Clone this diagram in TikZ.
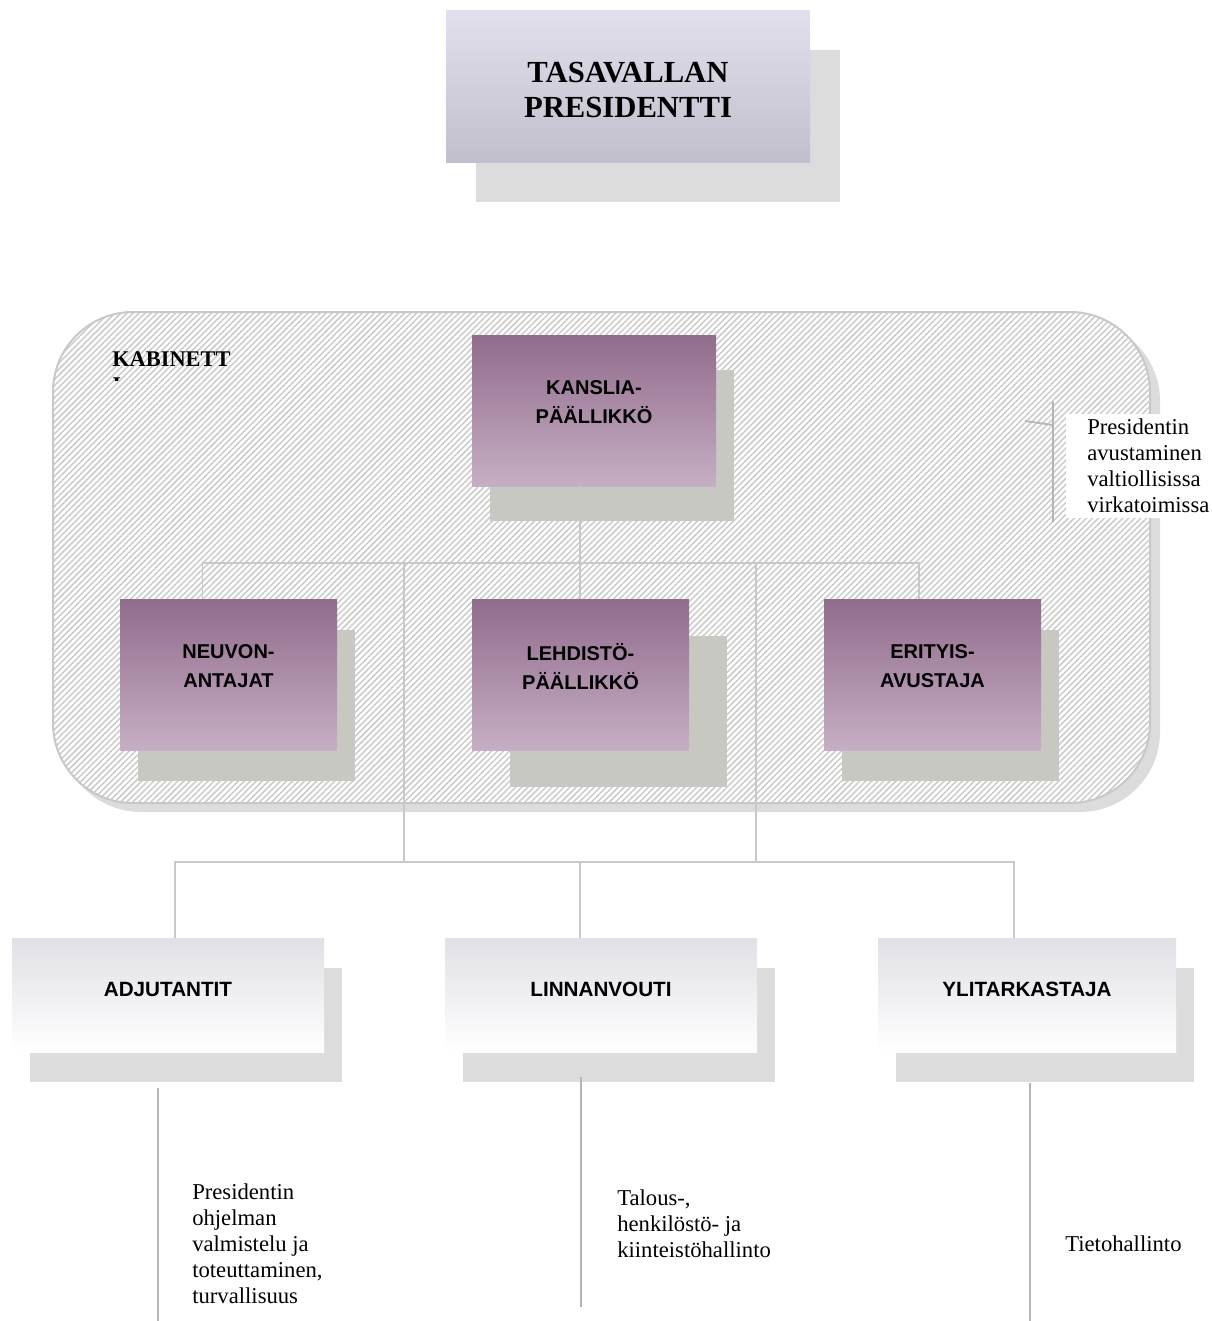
\documentclass[tikz,border=0pt]{standalone}
\usepackage{fontspec}
\setmainfont{Liberation Serif}
\setsansfont{Liberation Sans}
\usetikzlibrary{positioning,shadows,patterns.meta}

\definecolor{titletop}{HTML}{E2E0EC}
\definecolor{titlebot}{HTML}{C0BFCB}
\definecolor{purptop}{HTML}{916C8C}
\definecolor{purpbot}{HTML}{C6AEC4}
\definecolor{purpshadow}{HTML}{C8C8C3}
\definecolor{lightshadow}{HTML}{DCDCDC}
\definecolor{unittop}{HTML}{E0E0E6}
\definecolor{conngray}{HTML}{C8C8C8}
\definecolor{sidegray}{HTML}{B4B4B4}
\definecolor{hatchgray}{HTML}{CACACA}

\begin{document}
\begin{tikzpicture}[x=0.75pt,y=-0.75pt,
    conn/.style = {draw=conngray, line width=1.1pt},
    sideline/.style = {draw=sidegray, line width=1.3pt},
    shadowed/.style n args = {3}{drop shadow={shadow xshift=#1, shadow yshift=#2, fill=#3, opacity=1}},
    presbox/.style = {rectangle, inner sep=0pt, top color=titletop, bottom color=titlebot,
      minimum width=273pt, minimum height=114pt, align=center,
      font=\bfseries\fontsize{23}{26.25}\selectfont},
    chief/.style = {rectangle, inner sep=0pt, top color=purptop, bottom color=purpbot,
      minimum width=183pt, minimum height=113.25pt, align=center, text depth=12pt,
      font=\sffamily\bfseries\fontsize{15}{21.75}\selectfont},
    staff/.style = {chief, minimum width=162.75pt},
    unit/.style = {rectangle, inner sep=0pt, top color=unittop, bottom color=white,
      minimum width=234pt, minimum height=85.5pt, align=center, text depth=8pt,
      font=\sffamily\bfseries\fontsize{15.5}{18}\selectfont},
    desc/.style = {inner sep=0pt, align=left, font=\fontsize{17}{19.5}\selectfont},
    cabinet/.style = {draw=conngray, line width=1.5pt, rounded corners=60pt,
      preaction={fill=white},
      pattern={Lines[angle=45, distance=3.2pt, line width=1.1pt]}, pattern color=hatchgray}]
  \useasboundingbox (0,0) rectangle (1212,1321);

  % president
  \node[presbox, shadowed={22.5pt}{-30pt}{lightshadow}] (pres) at (628,86)
    {\rule{0pt}{21pt}TASAVALLAN\\PRESIDENTTI};

  % cabinet frame
  \fill[lightshadow, rounded corners=60pt] (61,321) rectangle (1160,812);
  \draw[cabinet] (53,312) rectangle (1150,803);
  \begin{scope}
    \clip (100,330) rectangle (300,380);
    \node[inner sep=0pt, align=left, anchor=north west, font=\bfseries\fontsize{16.8}{19.5}\selectfont]
      (kab) at (112,351) {KABINETT\\I};
  \end{scope}

  % boxes inside the cabinet
  \node[chief, shadowed={13.5pt}{-26.25pt}{purpshadow}] (kans) at (594,410.5) {KANSLIA-\\PÄÄLLIKKÖ};
  \node[staff, shadowed={13.5pt}{-23.25pt}{purpshadow}] (neuv) at (228.5,674.5) {NEUVON-\\ANTAJAT};
  \node[staff, shadowed={28.5pt}{-27.75pt}{purpshadow}] (lehd) at (580.5,674.5) {LEHDISTÖ-\\PÄÄLLIKKÖ};
  \node[staff, shadowed={13.5pt}{-23.25pt}{purpshadow}] (erit) at (932.5,674.5) {ERITYIS-\\AVUSTAJA};

  % units
  \node[unit, shadowed={13.5pt}{-22.5pt}{lightshadow}] (adj) at (168,995) {ADJUTANTIT};
  \node[unit, shadowed={13.5pt}{-22.5pt}{lightshadow}] (linn) at (601,995) {LINNANVOUTI};
  \node[unit, minimum width=223.5pt, shadowed={13.5pt}{-22.5pt}{lightshadow}] (ylit) at (1027,995) {YLITARKASTAJA};

  % tree
  \coordinate (kj) at (580,563);
  \coordinate (sa) at (404,563);
  \coordinate (sb) at (756,563);
  \coordinate (ba) at (404,862);
  \coordinate (bb) at (756,862);
  \draw[conn] (kans.south -| kj) -- (kj);
  \draw[conn] ([xshift=-19.5pt]neuv.north) |- (kj) -| ([xshift=-10.1pt]erit.north);
  \draw[conn] (kj) -- (lehd.north -| kj);
  \draw[conn] (sa) -- (ba);
  \draw[conn] (sb) -- (bb);
  \draw[conn] ([xshift=5.25pt]adj.north) |- (ba) -- (bb) -| ([xshift=-9.75pt]ylit.north);
  \draw[conn] ([xshift=-15.75pt]linn.north) -- ([xshift=-15.75pt]linn.north |- ba);

  % note on the right
  \node[desc, fill=white, inner xsep=15.75pt, inner ysep=4pt, anchor=west] (avust) at (1066,466)
    {Presidentin\\avustaminen\\valtiollisissa\\virkatoimissa};
  \coordinate (brtop) at (1053,402);
  \coordinate (brbot) at (1053,522);
  \coordinate (brtip) at (1025,421);
  \coordinate (brmid) at (1053,425);
  \draw[sideline] (brtop) -- (brbot);
  \draw[sideline] (brtip) -- (brmid);

  % tasks of the units
  \coordinate (la) at (158,1088);
  \coordinate (lb) at (581,1077);
  \coordinate (lc) at (1030,1083);
  \draw[sideline] (la) -- (158,1321);
  \draw[sideline] (lb) -- (581,1307);
  \draw[sideline] (lc) -- (1030,1321);
  \node[desc, anchor=west] (tadj) at (192,1244)
    {Presidentin\\ohjelman\\valmistelu ja\\toteuttaminen,\\turvallisuus};
  \node[desc, anchor=west] (tlinn) at (617,1224) {Talous-,\\henkilöstö- ja\\kiinteistöhallinto};
  \node[desc, anchor=west] (tylit) at (1065,1244) {Tietohallinto};
\end{tikzpicture}
\end{document}
